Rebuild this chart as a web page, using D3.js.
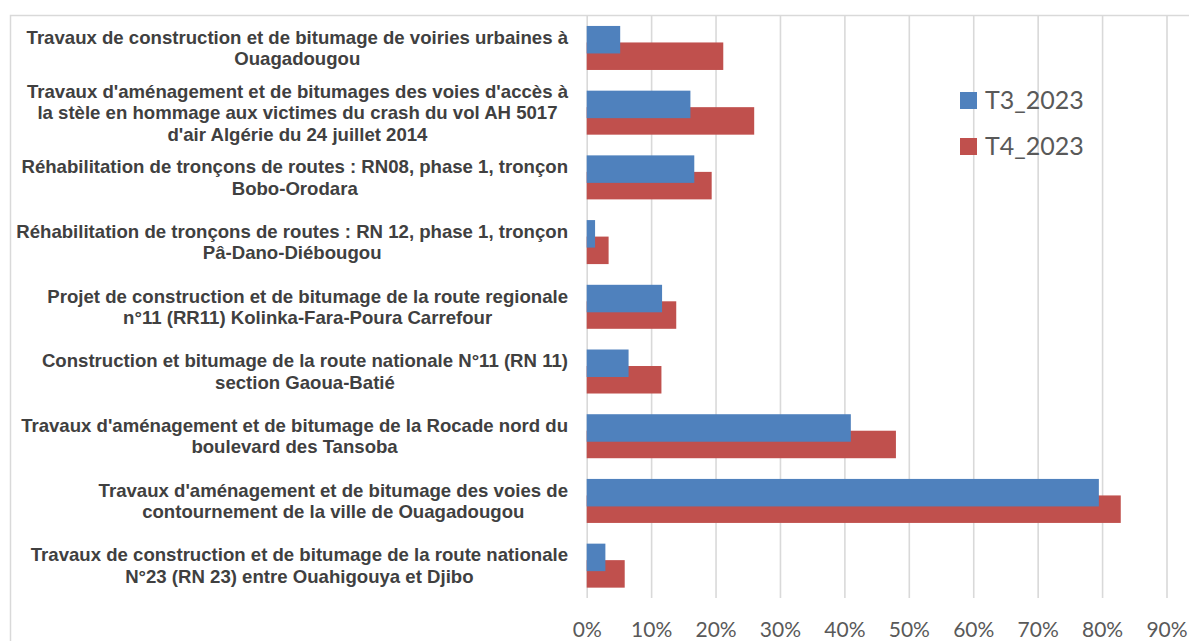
<!DOCTYPE html>
<html>
<head>
<meta charset="utf-8">
<script src="https://cdn.jsdelivr.net/npm/d3@7"></script>
<style>
    body { margin: 0; background: #fff; }
    svg { display: block; }
</style>
</head>
<body>
<div id="chart"></div>
<script>
    // categories, top to bottom (line breaks as in the original labels)
    const categories = [
        "Travaux de construction et de bitumage de voiries urbaines à\nOuagadougou",
        "Travaux d'aménagement et de bitumages des voies d'accès à\nla stèle en hommage aux victimes du crash du vol AH 5017\nd'air Algérie du 24 juillet 2014",
        "Réhabilitation de tronçons de routes : RN08, phase 1, tronçon\nBobo-Orodara",
        "Réhabilitation de tronçons de routes : RN 12, phase 1, tronçon\nPâ-Dano-Diébougou",
        "Projet de construction et de bitumage de la route regionale\nn°11 (RR11) Kolinka-Fara-Poura Carrefour",
        "Construction et bitumage de la route nationale N°11 (RN 11)\nsection Gaoua-Batié",
        "Travaux d'aménagement et de bitumage de la Rocade nord du\nboulevard des Tansoba",
        "Travaux d'aménagement et de bitumage des voies de\ncontournement de la ville de Ouagadougou",
        "Travaux de construction et de bitumage de la route nationale\nN°23 (RN 23) entre Ouahigouya et Djibo"
    ]
    const seriesNames = ["T3_2023", "T4_2023"]
    const t3 = [0.052, 0.161, 0.167, 0.013, 0.117, 0.065, 0.410, 0.795, 0.029]
    const t4 = [0.212, 0.260, 0.194, 0.034, 0.139, 0.116, 0.480, 0.829, 0.059]
    const tickValues = [0, 0.1, 0.2, 0.3, 0.4, 0.5, 0.6, 0.7, 0.8, 0.9]
    const colors = ["#4F81BD", "#C0504D"]

    const W = 1189, H = 641
    const plot = {left: 586.7, right: 1166.5, top: 15.6, bottom: 598}

    const svg = d3.select("#chart").append("svg")
        .attr("width", W)
        .attr("height", H)
        .attr("viewBox", [0, 0, W, H])

    // chart border (cut by the right/bottom edges of the picture)
    svg.append("rect")
        .attr("x", 10.5).attr("y", 15.5)
        .attr("width", W).attr("height", H)
        .attr("fill", "none")
        .attr("stroke", "#d9d9d9")
        .attr("stroke-width", 1.5)

    const x = d3.scaleLinear()
        .domain([0, 0.9])
        .range([plot.left, plot.right])

    const y = d3.scaleBand()
        .domain(d3.range(categories.length))
        .range([plot.top, plot.bottom])

    const step = y.step()
    const barH = step * 0.425
    const offset = step * 0.255

    // vertical gridlines + bottom tick labels
    const xAxis = svg.append("g")
        .attr("class", "xAxis")
        .attr("transform", `translate(0,${plot.bottom})`)
        .call(d3.axisBottom(x)
            .tickValues(tickValues)
            .tickFormat(d3.format(".0%"))
            .tickSize(-(plot.bottom - plot.top))
            .tickPadding(0))
    xAxis.select(".domain").remove()
    xAxis.selectAll(".tick line")
        .attr("stroke", "#d9d9d9")
        .attr("stroke-width", 1.6)
    xAxis.selectAll(".tick text")
        .attr("y", 39)
        .attr("dy", null)
        .attr("fill", "#595959")
        .style("font-family", "Lato, 'Open Sans', sans-serif")
        .style("font-size", "21px")

    // bars: T4 first so the T3 bar overlaps it
    const groupTop = i => y(i) + (step - (barH + offset)) / 2

    svg.append("g").selectAll("rect")
        .data(t4)
        .join("rect")
        .attr("x", x(0))
        .attr("y", (d, i) => groupTop(i) + offset)
        .attr("width", d => x(d) - x(0))
        .attr("height", barH)
        .attr("fill", colors[1])

    svg.append("g").selectAll("rect")
        .data(t3)
        .join("rect")
        .attr("x", x(0))
        .attr("y", (d, i) => groupTop(i))
        .attr("width", d => x(d) - x(0))
        .attr("height", barH)
        .attr("fill", colors[0])

    // category labels, block right-aligned next to the axis, lines centred
    const labelRight = 568
    const lineH = 21.5
    const labels = svg.append("g")
        .style("font-family", "'Liberation Sans', Arial, sans-serif")
        .style("font-weight", "bold")
        .style("font-size", "18.6px")
        .attr("fill", "#404040")

    categories.forEach((c, i) => {
        const lines = c.split("\n")
        const g = labels.append("g")
        const cy = y(i) + step / 2
        const texts = g.selectAll("text")
            .data(lines)
            .join("text")
            .attr("text-anchor", "middle")
            .attr("dominant-baseline", "central")
            .attr("y", (d, k) => cy + (k - (lines.length - 1) / 2) * lineH)
            .text(d => d)
        let maxW = 0
        texts.each(function () { maxW = Math.max(maxW, this.getComputedTextLength()) })
        texts.attr("x", labelRight - maxW / 2)
    })

    // legend
    const legend = svg.append("g")
        .attr("transform", "translate(960,92)")
    const items = legend.selectAll("g")
        .data(seriesNames)
        .join("g")
        .attr("transform", (d, i) => `translate(0,${i * 46})`)
    items.append("rect")
        .attr("width", 17)
        .attr("height", 17)
        .attr("fill", (d, i) => colors[i])
    items.append("text")
        .attr("x", 25)
        .attr("y", 17)
        .attr("fill", "#595959")
        .style("font-family", "Lato, 'Open Sans', sans-serif")
        .style("font-size", "25px")
        .text(d => d)
</script>
</body>
</html>
